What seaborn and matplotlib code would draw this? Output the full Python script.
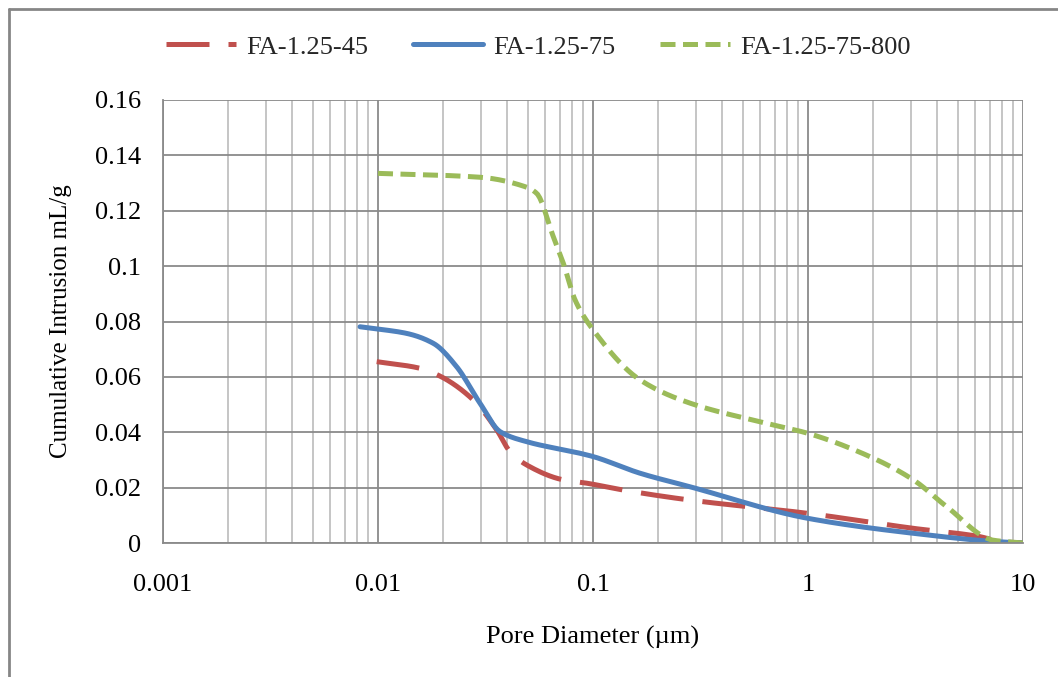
import numpy as np
import pandas as pd
import matplotlib
matplotlib.use("Agg")
import matplotlib.pyplot as plt
import seaborn as sns
from matplotlib.lines import Line2D
from matplotlib.ticker import LogLocator, FixedLocator, NullFormatter

# ---- data ----
s45_x = [0.00986, 0.0157, 0.0194, 0.0278, 0.0357, 0.0411, 0.0491, 0.0728, 0.0935, 0.1436, 0.283, 1.0, 3.09, 6.3, 7.8, 10.0]
s45_y = [0.0655, 0.0631, 0.0603, 0.0516, 0.0408, 0.0330, 0.0282, 0.0228, 0.0216, 0.0189, 0.0155, 0.0107, 0.0053, 0.0023, 0.0005, 0.0]

s75_x = [0.00825, 0.0102, 0.0136, 0.0181, 0.0232, 0.0298, 0.0370, 0.0491, 0.0871, 0.1003, 0.1655, 0.283, 1.0, 3.09, 7.5, 10.0]
s75_y = [0.0781, 0.0772, 0.0757, 0.0721, 0.0637, 0.0505, 0.0402, 0.0366, 0.0324, 0.0312, 0.0252, 0.0203, 0.0089, 0.0035, 0.0005, 0.0]

s800_x = [0.0100, 0.0298, 0.0483, 0.0547, 0.0654, 0.0728, 0.0825, 0.1003, 0.1655, 0.283, 0.643, 1.0, 1.94, 3.09, 4.42, 7.28, 10.0]
s800_y = [0.1335, 0.1321, 0.1287, 0.1263, 0.1106, 0.1010, 0.0878, 0.0769, 0.0589, 0.0505, 0.0432, 0.0396, 0.0312, 0.0228, 0.0131, 0.0010, 0.0]

series_names = ["FA-1.25-45", "FA-1.25-75", "FA-1.25-75-800"]
x_ticks = [0.001, 0.01, 0.1, 1, 10]
x_tick_labels = ["0.001", "0.01", "0.1", "1", "10"]
y_ticks = [0, 0.02, 0.04, 0.06, 0.08, 0.1, 0.12, 0.14, 0.16]
y_tick_labels = ["0", "0.02", "0.04", "0.06", "0.08", "0.1", "0.12", "0.14", "0.16"]

colors = ["#C0504D", "#4F81BD", "#9BBB59"]

sns.set_theme(style="white")
plt.rcParams['font.family'] = ['Liberation Serif', 'DejaVu Serif']

FS = 19

fig = plt.figure(figsize=(10.58, 6.77), dpi=100)
ax = fig.add_axes([163/1058, 1 - 543/677, (1023-163)/1058, (543-100)/677])

def smooth(xs, ys, n=300):
    lx = np.log10(np.array(xs))
    y = np.array(ys)
    # monotone cubic (PCHIP-like) interpolation in log-x
    t = np.linspace(lx[0], lx[-1], n)
    h = np.diff(lx)
    d = np.diff(y) / h
    m = np.zeros_like(y)
    m[0], m[-1] = d[0], d[-1]
    for i in range(1, len(y) - 1):
        if d[i-1] * d[i] <= 0:
            m[i] = 0
        else:
            w1 = 2*h[i] + h[i-1]
            w2 = h[i] + 2*h[i-1]
            m[i] = (w1 + w2) / (w1/d[i-1] + w2/d[i])
    out = np.empty_like(t)
    for k, tt in enumerate(t):
        i = min(np.searchsorted(lx, tt, side='right') - 1, len(lx) - 2)
        i = max(i, 0)
        s = (tt - lx[i]) / h[i]
        h00 = 2*s**3 - 3*s**2 + 1
        h10 = s**3 - 2*s**2 + s
        h01 = -2*s**3 + 3*s**2
        h11 = s**3 - s**2
        out[k] = h00*y[i] + h10*h[i]*m[i] + h01*y[i+1] + h11*h[i]*m[i+1]
    return 10**t, out

frames = []
for name, xs, ys in zip(series_names, [s45_x, s75_x, s800_x], [s45_y, s75_y, s800_y]):
    sx, sy = smooth(xs, ys)
    frames.append(pd.DataFrame({"d": sx, "v": sy, "series": name}))
df = pd.concat(frames, ignore_index=True)

RED_D = (8.6, 3.8)
GRN_D = (3.0, 1.5)
dash_styles = {"FA-1.25-45": RED_D, "FA-1.25-75": "", "FA-1.25-75-800": GRN_D}
sns.lineplot(data=df, x="d", y="v", hue="series", style="series",
             palette=colors, dashes=dash_styles, linewidth=3.6, ax=ax,
             legend=False, sort=False, estimator=None)

ax.set_xscale("log")
ax.set_xlim(0.001, 10)
ax.set_ylim(0, 0.16)

# grid
ax.xaxis.set_major_locator(FixedLocator(x_ticks))
ax.set_xticklabels(x_tick_labels)
ax.xaxis.set_minor_locator(LogLocator(base=10, subs=np.arange(2, 10)))
ax.xaxis.set_minor_formatter(NullFormatter())
ax.set_yticks(y_ticks)
ax.set_yticklabels(y_tick_labels)
ax.grid(True, which="major", axis="both", color="#8a8a8a", linewidth=1.3)
ax.grid(True, which="minor", axis="x", color="#c0c0c0", linewidth=1.3)
ax.set_axisbelow(True)

for side in ["top", "right"]:
    ax.spines[side].set_visible(False)
for side in ["left", "bottom"]:
    ax.spines[side].set_visible(True)
    ax.spines[side].set_color("#8a8a8a")
    ax.spines[side].set_linewidth(1.3)

ax.tick_params(axis="both", which="major", direction="out", length=5, width=1.3,
               color="#8a8a8a", labelsize=FS, labelcolor="black")
ax.tick_params(axis="x", which="minor", length=0)
ax.tick_params(axis="x", which="major", pad=17)
ax.tick_params(axis="y", which="major", pad=11)

ax.set_xlabel("Pore Diameter (µm)", fontsize=FS, color="black", labelpad=22)
ax.set_ylabel("Cumulative Intrusion mL/g", fontsize=18, color="black", labelpad=16)

handles = [Line2D([], [], color=colors[0], lw=3.6, dashes=RED_D),
           Line2D([], [], color=colors[1], lw=3.6),
           Line2D([], [], color=colors[2], lw=3.6, dashes=GRN_D)]
fig.legend(handles, series_names, loc="center", bbox_to_anchor=(0.509, 1 - 47/677),
           ncol=3, frameon=False, fontsize=FS, handlelength=2.65,
           columnspacing=1.7, handletextpad=0.38)

# outer chart border
fig.add_artist(Line2D([9/1058, 9/1058], [0, 1 - 9/677], transform=fig.transFigure,
                      color="#868686", lw=2))
fig.add_artist(Line2D([9/1058, 1], [1 - 9/677, 1 - 9/677], transform=fig.transFigure,
                      color="#868686", lw=2))

fig.savefig("out.png", dpi=100)
